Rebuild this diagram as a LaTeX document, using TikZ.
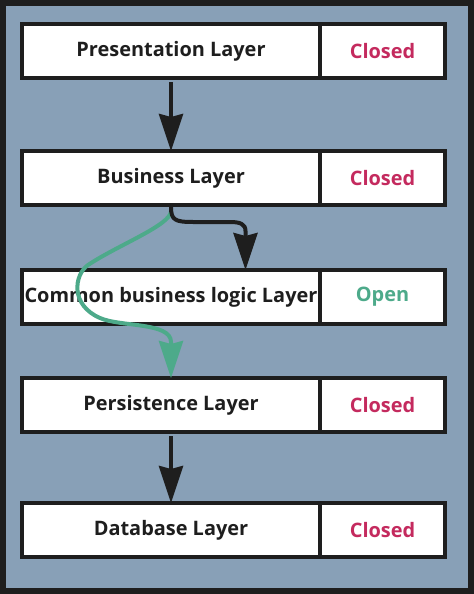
\documentclass[tikz,border=0pt]{standalone}
\usepackage{fontspec}
\setmainfont{Open Sans}
\usetikzlibrary{positioning, arrows.meta, calc}

\definecolor{panelbg}{HTML}{88A0B7}
\definecolor{framedark}{HTML}{1E1E1E}
\definecolor{closedred}{HTML}{C42A5E}
\definecolor{opengreen}{HTML}{4DAA8A}

\begin{document}
\begin{tikzpicture}[
    x=1bp, y=-1bp,
    >={Stealth[length=37bp, width=24bp, inset=3bp]},
    layerbox/.style={draw=framedark, line width=4bp, rectangle, fill=white, outer sep=0pt,
        minimum width=298bp, minimum height=54bp, inner sep=0pt,
        font=\fontsize{20}{24}\selectfont\bfseries, text=framedark},
    statebox/.style={draw=framedark, line width=4bp, rectangle, fill=white, outer sep=0pt,
        minimum width=125bp, minimum height=54bp, inner sep=0pt,
        font=\fontsize{20}{24}\selectfont\bfseries},
    flowarrow/.style={->, line width=4bp, framedark},
    openarrow/.style={->, line width=4bp, opengreen}
]

% outer panel
\useasboundingbox (0,0) rectangle (474,594);
\draw[line width=6bp, draw=framedark, fill=panelbg] (3,3) rectangle (471,591);

% Layer Blocks
\node[layerbox] (pres) at (171,51.5) {Presentation Layer};
\node[statebox, text=closedred, right=0pt of pres] (presS) {Closed};

\node[layerbox] (busi) at (171,178) {Business Layer};
\node[statebox, text=closedred, right=0pt of busi] (busiS) {Closed};

\node[layerbox] (comm) at (171,297) {\makebox[0pt]{Common business logic Layer}};
\node[statebox, text=opengreen, right=0pt of comm] (commS) {Open};

\node[layerbox] (pers) at (171,405) {Persistence Layer};
\node[statebox, text=closedred, right=0pt of pers] (persS) {Closed};

\node[layerbox] (data) at (171,530) {Database Layer};
\node[statebox, text=closedred, right=0pt of data] (dataS) {Closed};

% Straight Flow
\draw[flowarrow, shorten <=4bp] (pres.south) -- (busi.north);
\draw[flowarrow, shorten <=4bp] (pers.south) -- (data.north);

% Bypass through the open layer
\coordinate (commIn) at ($(comm.north west)!0.75!(comm.north east)$);
\draw[openarrow, shorten <=6bp] (busi.south) .. controls (171,225) and (118,245) .. (88,265)
    .. controls (74,275) and (70,305) .. (100,318)
    .. controls (120,327) and (171,322) .. (171,342) -- (pers.north);
\draw[flowarrow, shorten <=2bp] (busi.south) .. controls (171,220) and (175,222) .. (193,222)
    -- (230,222) .. controls (240,222) and (245.5,224) .. (245.5,231) -- (commIn);

\end{tikzpicture}
\end{document}
